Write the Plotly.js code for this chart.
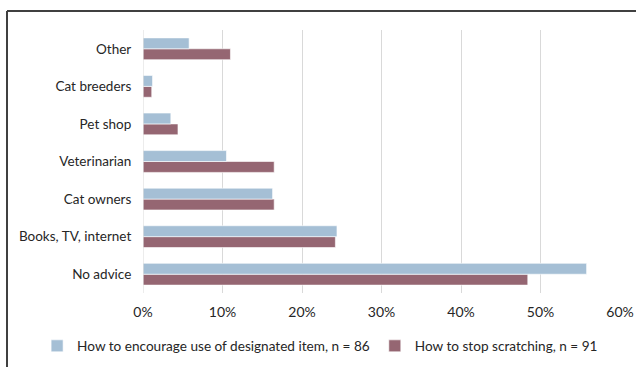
<!DOCTYPE html>
<html>
<head>
<meta charset="utf-8">
<script src="https://cdn.plot.ly/plotly-3.0.1.min.js"></script>
<style>html,body{margin:0;padding:0;background:#fff;}#chart{width:636px;height:367px;}</style>
</head>
<body>
<div id="chart"></div>
<script>
var categories = ['No advice', 'Books, TV, internet', 'Cat owners', 'Veterinarian', 'Pet shop', 'Cat breeders', 'Other'];
var encourageName = 'How to encourage use of designated item, n = 86';
var encourageValues = [0.558, 0.244, 0.163, 0.105, 0.035, 0.012, 0.058];
var stopName = 'How to stop scratching, n = 91';
var stopValues = [0.484, 0.242, 0.165, 0.165, 0.044, 0.011, 0.110];
var tickVals = [0, 0.1, 0.2, 0.3, 0.4, 0.5, 0.6];
var tickText = ['0%', '10%', '20%', '30%', '40%', '50%', '60%'];

var traces = [
  {type: 'bar', orientation: 'h', name: stopName, y: categories, x: stopValues,
   marker: {color: '#956672', line: {color: '#ffffff', width: 0.6}}, legendrank: 2},
  {type: 'bar', orientation: 'h', name: encourageName, y: categories, x: encourageValues,
   marker: {color: '#A5BFD5', line: {color: '#ffffff', width: 0.6}}, legendrank: 1}
];

var layout = {
  width: 636, height: 367,
  margin: {l: 143, r: 16, t: 30, b: 74, autoexpand: false},
  paper_bgcolor: '#ffffff', plot_bgcolor: '#ffffff',
  font: {family: 'Lato, "Open Sans", sans-serif', size: 13.5, color: '#262626'},
  barmode: 'group', bargap: 0.42, bargroupgap: 0,
  showlegend: true,
  legend: {orientation: 'h', x: -0.222, xanchor: 'left', y: -0.2015, yanchor: 'middle',
           bgcolor: 'rgba(0,0,0,0)',
           font: {size: 13.6, color: '#262626'}, itemwidth: 30, tracegroupgap: 0},
  xaxis: {range: [0, 0.6], tickvals: tickVals, ticktext: tickText, showgrid: true,
          gridcolor: '#D9D9D9', gridwidth: 1, zeroline: false, showline: false,
          ticks: 'outside', ticklen: 6, tickcolor: 'rgba(0,0,0,0)', tickfont: {size: 14}, fixedrange: true},
  yaxis: {type: 'category', categoryorder: 'array', categoryarray: categories,
          showgrid: false, zeroline: false, showline: false, ticks: 'outside', ticklen: 8, tickcolor: 'rgba(0,0,0,0)',
          tickfont: {size: 13.5}, fixedrange: true},
  shapes: [
    {type: 'line', xref: 'paper', yref: 'paper', x0: (7 - 143) / 477, x1: (7 - 143) / 477,
     y0: 1 + (30 - 11) / 263, y1: -0.3, line: {color: '#404040', width: 2}},
    {type: 'line', xref: 'paper', yref: 'paper', x0: (7 - 143) / 477, x1: 1.1,
     y0: 1 + (30 - 11) / 263, y1: 1 + (30 - 11) / 263, line: {color: '#404040', width: 2}},
    {type: 'line', xref: 'x', yref: 'paper', x0: 0, x1: 0, y0: 0, y1: 1,
     line: {color: '#D9D9D9', width: 1}}
  ]
};

Plotly.newPlot('chart', traces, layout, {displayModeBar: false, staticPlot: true});
</script>
</body>
</html>
